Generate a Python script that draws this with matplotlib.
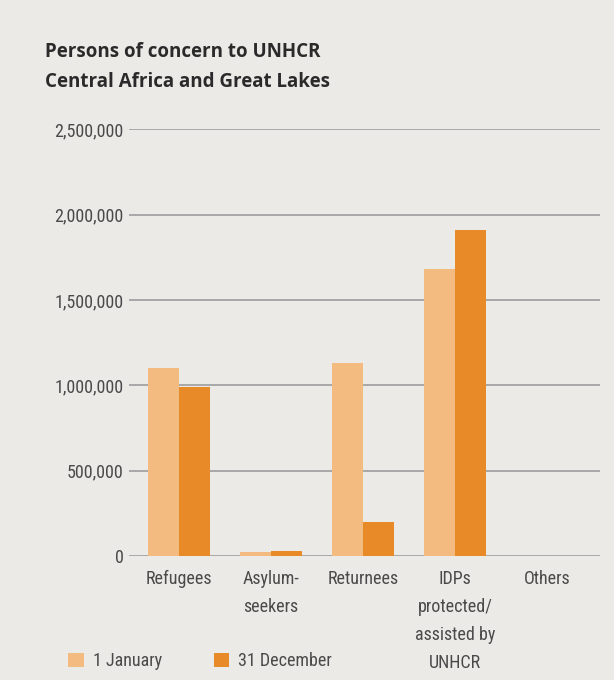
import matplotlib.pyplot as plt
import numpy as np
from matplotlib.patches import Patch

categories = ["Refugees", "Asylum-\nseekers", "Returnees",
              "IDPs\nprotected/\nassisted by\nUNHCR", "Others"]
jan_values = [1100000, 25000, 1130000, 1680000, 0]
dec_values = [990000, 30000, 200000, 1910000, 0]
series_labels = ["1 January", "31 December"]
y_ticks = [0, 500000, 1000000, 1500000, 2000000, 2500000]

BG = "#ECEAE7"
LIGHT = "#F4BB80"
DARK = "#E98A28"
TEXT = "#4A4A4A"

plt.rcParams["font.family"] = ["Roboto Condensed", "Liberation Sans Narrow", "Roboto", "DejaVu Sans"]
plt.rcParams["font.stretch"] = "condensed"

fig = plt.figure(figsize=(6.14, 6.8), dpi=100, facecolor=BG)
# plot area: x 129..600 px, y 129..556 px
ax = fig.add_axes([0.210, 0.182, 0.767, 0.628], facecolor=BG)

x = np.arange(len(categories))
w = 0.34
ax.bar(x - w / 2, jan_values, width=w, color=LIGHT, zorder=3)
ax.bar(x + w / 2, dec_values, width=w, color=DARK, zorder=3)

ax.set_xlim(-0.543, 4.576)
ax.set_ylim(0, 2500000)
ax.set_yticks(y_ticks, [f"{v:,}" for v in y_ticks])
ax.set_xticks(x, categories)
ax.yaxis.grid(True, color="#A3A3A3", linewidth=1.3, zorder=0)
ax.set_axisbelow(True)
for s in ax.spines.values():
    s.set_visible(False)
ax.tick_params(axis="both", length=0, colors=TEXT, labelsize=13)
ax.tick_params(axis="y", pad=4)
ax.tick_params(axis="x", pad=10)
for lab in ax.get_xticklabels():
    lab.set_verticalalignment("top")
    lab.set_linespacing(1.72)

title_kw = dict(fontsize=13.5, fontweight="bold", color="#2A2A2A", va="baseline",
                family=["Open Sans", "DejaVu Sans"], fontstretch="normal")
fig.text(0.073, 0.916, "Persons of concern to UNHCR", **title_kw)
fig.text(0.073, 0.872, "Central Africa and Great Lakes", **title_kw)

handles = [Patch(facecolor=LIGHT, label=series_labels[0]),
           Patch(facecolor=DARK, label=series_labels[1])]
leg = fig.legend(handles=handles, loc="center left", bbox_to_anchor=(0.111, 0.028),
                 ncol=2, frameon=False, fontsize=13, handlelength=0.85,
                 handleheight=0.8, handletextpad=0.5, columnspacing=2.9,
                 borderpad=0, borderaxespad=0)
for t in leg.get_texts():
    t.set_color(TEXT)

fig.savefig("out.png", dpi=100, facecolor=BG)
